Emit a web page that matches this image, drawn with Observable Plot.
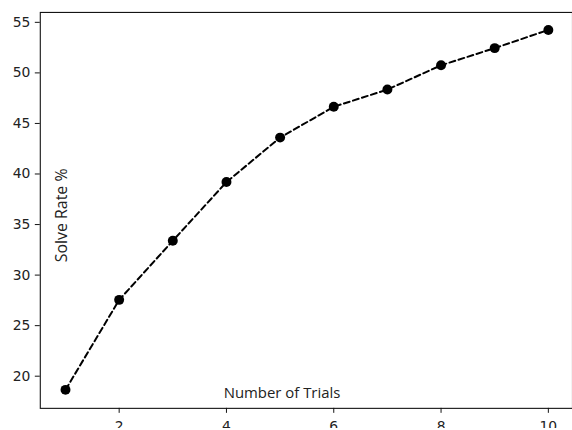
<!DOCTYPE html>
<html>
<head>
<meta charset="utf-8">
<script src="https://cdn.jsdelivr.net/npm/d3@7"></script>
<script src="https://cdn.jsdelivr.net/npm/@observablehq/plot@0.6"></script>
<style>
  html, body { margin: 0; padding: 0; background: #fff; overflow: hidden; width: 572px; height: 430px; }
  #chart svg { display: block; }
</style>
</head>
<body>
<div id="chart"></div>
<script>
const trials = [1, 2, 3, 4, 5, 6, 7, 8, 9, 10];
const solveRate = [18.65, 27.55, 33.4, 39.2, 43.6, 46.65, 48.35, 50.75, 52.45, 54.25];
const xTicks = [2, 4, 6, 8, 10];
const yTicks = [20, 25, 30, 35, 40, 45, 50, 55];
const xLabel = "Number of Trials";
const yLabel = "Solve Rate %";

const data = trials.map((t, i) => ({trial: t, rate: solveRate[i]}));

const chart = Plot.plot({
  width: 575,
  height: 430,
  marginLeft: 40,
  marginRight: 0,
  marginTop: 12,
  marginBottom: 20,
  style: {fontFamily: "DejaVu Sans", fontSize: "14px", color: "#222", background: "#fff"},
  x: {domain: [0.53, 10.45], ticks: xTicks, label: null},
  y: {domain: [16.82, 55.98], ticks: yTicks, label: null},
  marks: [
    Plot.frame({stroke: "#111", strokeWidth: 1.1}),
    Plot.axisX({ticks: xTicks, tickSize: 5, tickPadding: 8, label: null, stroke: "#111", fontSize: 14}),
    Plot.axisY({ticks: yTicks, tickSize: 5, tickPadding: 5, label: null, stroke: "#111", fontSize: 14}),
    Plot.line(data, {x: "trial", y: "rate", stroke: "#000", strokeWidth: 2, strokeDasharray: "6,3.5"}),
    Plot.dot(data, {x: "trial", y: "rate", r: 5, fill: "#000", stroke: "none"}),
    Plot.text([yLabel], {frameAnchor: "left", textAnchor: "middle", lineAnchor: "middle", dx: 22, dy: 5, rotate: -90, text: d => d, fontFamily: "Open Sans", fontSize: 16, fill: "#222"}),
    Plot.text([xLabel], {frameAnchor: "bottom", textAnchor: "middle", lineAnchor: "middle", dx: -24.5, dy: -15, text: d => d, fontFamily: "Open Sans", fontSize: 15, fill: "#222"})
  ]
});
document.getElementById("chart").appendChild(chart);
</script>
</body>
</html>
